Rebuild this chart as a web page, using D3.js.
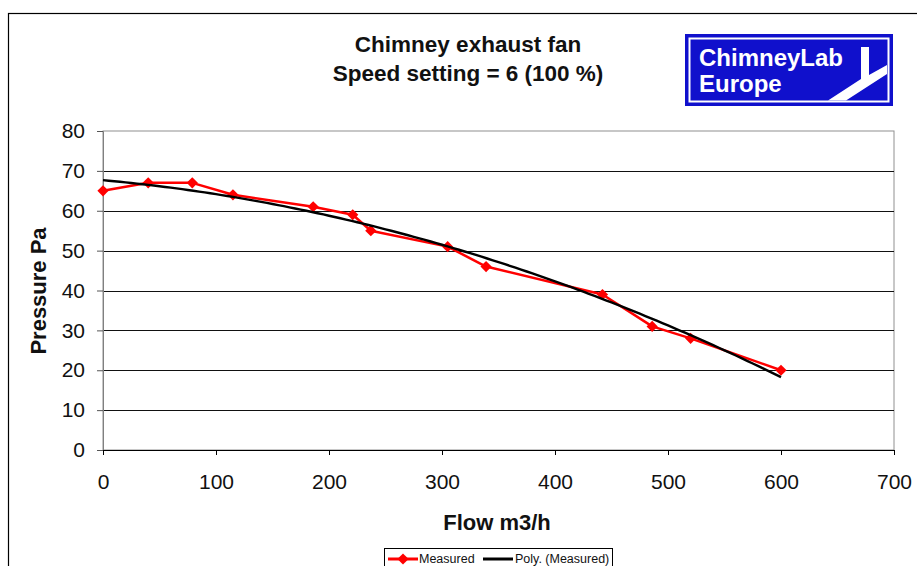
<!DOCTYPE html>
<html>
<head>
<meta charset="utf-8">
<script src="https://cdn.jsdelivr.net/npm/d3@7"></script>
<style>
  body { margin: 0; background: #fff; }
  svg { display: block; font-family: "Liberation Sans", Arial, sans-serif; }
</style>
</head>
<body>
<svg id="chart" width="917" height="566"></svg>
<script>
// measured points
const flow = [0, 40, 79, 115, 186, 221, 237, 305, 339, 442, 486, 520, 600];
const pressure = [65, 67, 67, 64, 61, 59, 55, 51, 46, 39, 31, 28, 20];
const xTicks = [0, 100, 200, 300, 400, 500, 600, 700];
const yTicks = [0, 10, 20, 30, 40, 50, 60, 70, 80];
const titleLines = ["Chimney exhaust fan", "Speed setting = 6 (100 %)"];
const polyOrder = 2;

const svg = d3.select("#chart");
const plot = { left: 103, right: 894, top: 131, bottom: 450 };

const x = d3.scaleLinear().domain([0, 700]).range([plot.left, plot.right]);
const y = d3.scaleLinear().domain([0, 80]).range([plot.bottom, plot.top]);

// outer frame
svg.append("rect")
    .attr("x", 8.5).attr("y", 13.5)
    .attr("width", 950).attr("height", 600)
    .attr("fill", "none").attr("stroke", "#000").attr("stroke-width", 1.2);

// plot border
svg.append("rect")
    .attr("x", plot.left).attr("y", plot.top)
    .attr("width", plot.right - plot.left).attr("height", plot.bottom - plot.top)
    .attr("fill", "none").attr("stroke", "#909090");

// grid lines
svg.append("g")
    .selectAll("line")
    .data(yTicks.filter(d => d > 0 && d < 80))
    .join("line")
    .attr("x1", plot.left).attr("x2", plot.right)
    .attr("y1", d => Math.round(y(d)) + 0.5).attr("y2", d => Math.round(y(d)) + 0.5)
    .attr("stroke", "#111");

// y axis
const yAxis = svg.append("g")
    .attr("transform", `translate(${plot.left},0)`)
    .call(d3.axisLeft(y).tickValues(yTicks).tickSize(6).tickPadding(12));
yAxis.select(".domain").attr("stroke", "#808080");
yAxis.selectAll(".tick line").attr("stroke", "#555");
yAxis.selectAll("text").attr("font-size", 21).attr("fill", "#111")
    .attr("font-family", "Liberation Sans, Arial, sans-serif");

// x axis
const xAxis = svg.append("g")
    .attr("transform", `translate(0,${plot.bottom})`)
    .call(d3.axisBottom(x).tickValues(xTicks).tickSize(5).tickPadding(19));
xAxis.select(".domain").attr("stroke", "#000");
xAxis.selectAll(".tick line").attr("stroke", "#000");
xAxis.selectAll("text").attr("font-size", 21).attr("fill", "#111")
    .attr("font-family", "Liberation Sans, Arial, sans-serif");

// polynomial trendline (least squares, like Excel's Poly. trendline)
function polyFit(xs, ys, order) {
    const n = order + 1;
    const A = Array.from({ length: n }, () => new Array(n + 1).fill(0));
    xs.forEach((xv, k) => {
        for (let i = 0; i < n; i++) {
            for (let j = 0; j < n; j++) A[i][j] += Math.pow(xv, i + j);
            A[i][n] += ys[k] * Math.pow(xv, i);
        }
    });
    for (let i = 0; i < n; i++) {
        let p = i;
        for (let r = i + 1; r < n; r++) if (Math.abs(A[r][i]) > Math.abs(A[p][i])) p = r;
        [A[i], A[p]] = [A[p], A[i]];
        for (let r = 0; r < n; r++) {
            if (r === i) continue;
            const f = A[r][i] / A[i][i];
            for (let c = i; c <= n; c++) A[r][c] -= f * A[i][c];
        }
    }
    return A.map((row, i) => row[n] / row[i]);
}
const coef = polyFit(flow, pressure, polyOrder);
const trend = d3.range(0, 601, 5).map(xv => [xv, coef.reduce((s, c, i) => s + c * Math.pow(xv, i), 0)]);

const line = d3.line().x(d => x(d[0])).y(d => y(d[1]));

svg.append("path")
    .datum(flow.map((f, i) => [f, pressure[i]]))
    .attr("d", line)
    .attr("fill", "none").attr("stroke", "#ff0000").attr("stroke-width", 2.5)
    .attr("stroke-linejoin", "round");

const diamond = d3.symbol().type(d3.symbolDiamond2).size(80);
svg.append("g")
    .selectAll("path")
    .data(flow.map((f, i) => [f, pressure[i]]))
    .join("path")
    .attr("d", diamond)
    .attr("transform", d => `translate(${x(d[0])},${y(d[1])})`)
    .attr("fill", "#ff0000");

svg.append("path")
    .datum(trend)
    .attr("d", line)
    .attr("fill", "none").attr("stroke", "#000").attr("stroke-width", 2.4);

// titles
svg.append("g")
    .selectAll("text")
    .data(titleLines)
    .join("text")
    .attr("x", 468).attr("y", (d, i) => 52 + i * 29)
    .attr("text-anchor", "middle")
    .attr("font-size", 22.5).attr("font-weight", "bold").attr("fill", "#111")
    .text(d => d);

svg.append("text")
    .attr("x", 497).attr("y", 530)
    .attr("text-anchor", "middle")
    .attr("font-size", 22).attr("font-weight", "bold").attr("fill", "#111")
    .text("Flow m3/h");

svg.append("text")
    .attr("transform", "translate(46,291) rotate(-90)")
    .attr("text-anchor", "middle")
    .attr("font-size", 22).attr("font-weight", "bold").attr("fill", "#111")
    .text("Pressure Pa");

// logo
const logo = svg.append("g");
logo.append("rect").attr("x", 685).attr("y", 34).attr("width", 208).attr("height", 72).attr("fill", "#1010cc");
logo.append("rect").attr("x", 689.5).attr("y", 38.5).attr("width", 199).attr("height", 63)
    .attr("fill", "none").attr("stroke", "#fff").attr("stroke-width", 2);
logo.append("polygon")
    .attr("points", "861,47 869,47 869,75 887,65 887,74 846,100.5 828,100.5 861,79")
    .attr("fill", "#fff");
logo.selectAll("text.logo")
    .data(["ChimneyLab", "Europe"])
    .join("text")
    .attr("x", 699).attr("y", (d, i) => 66 + i * 26)
    .attr("font-size", 24).attr("font-weight", "bold").attr("fill", "#fff")
    .text(d => d);

// legend
const legend = svg.append("g");
legend.append("rect").attr("x", 384.5).attr("y", 548.5).attr("width", 228).attr("height", 30)
    .attr("fill", "#fff").attr("stroke", "#000");
legend.append("line").attr("x1", 388).attr("x2", 418).attr("y1", 559).attr("y2", 559)
    .attr("stroke", "#ff0000").attr("stroke-width", 3);
legend.append("path").attr("d", diamond).attr("transform", "translate(403,559)").attr("fill", "#ff0000");
legend.append("text").attr("x", 419).attr("y", 563).attr("font-size", 12.5).attr("fill", "#111").text("Measured");
legend.append("line").attr("x1", 483).attr("x2", 513).attr("y1", 559).attr("y2", 559)
    .attr("stroke", "#000").attr("stroke-width", 3);
legend.append("text").attr("x", 515).attr("y", 563).attr("font-size", 12.5).attr("fill", "#111").text("Poly. (Measured)");
</script>
</body>
</html>
